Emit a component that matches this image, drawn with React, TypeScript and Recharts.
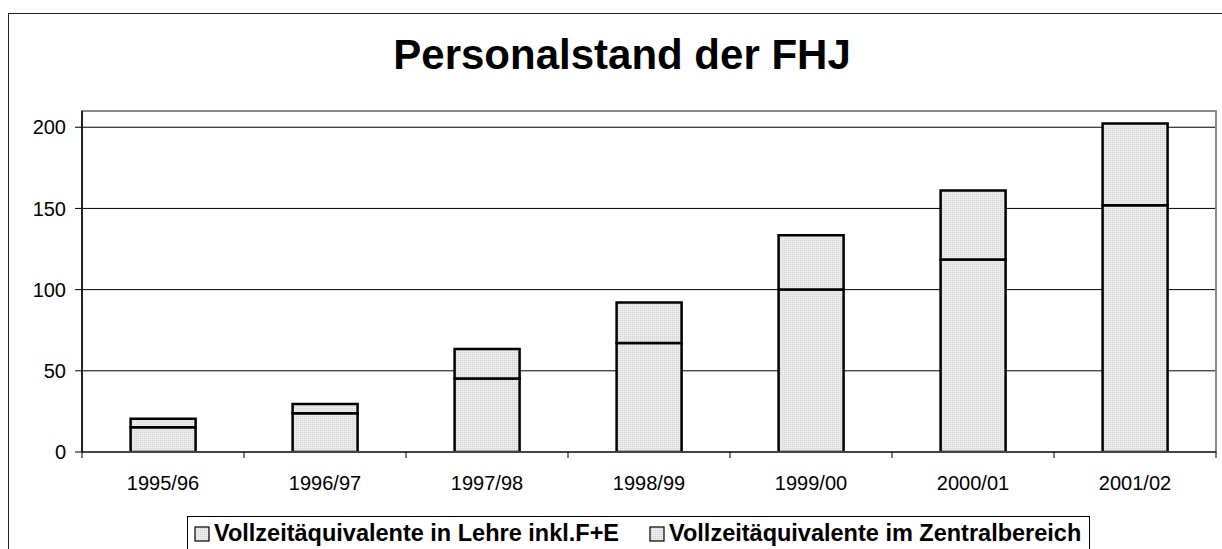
import React from 'react';
import { BarChart, Bar, XAxis, YAxis, CartesianGrid, Legend, ReferenceArea } from 'recharts';

const categories = ['1995/96', '1996/97', '1997/98', '1998/99', '1999/00', '2000/01', '2001/02'];
const lehre = [15.2, 23.8, 45.3, 67.1, 100, 118.6, 152];
const zentral = [5.3, 5.7, 18.1, 24.9, 33.5, 42.5, 50.3];
const yTicks = [0, 50, 100, 150, 200];
const seriesNames = ['Vollzeitäquivalente in Lehre inkl.F+E', 'Vollzeitäquivalente im Zentralbereich'];
const title = 'Personalstand der FHJ';

const data = categories.map((c, i) => ({ cat: c, lehre: lehre[i], zentral: zentral[i] }));

const FONT = '"Liberation Sans", Arial, sans-serif';
const X_TICK_SIZE = 6;
const X_TICK_MARGIN = 18;

const XTick = (props: any) => {
  const { x, y, payload, index, visibleTicksCount } = props;
  const off = payload && payload.offset ? payload.offset : 0;
  const axisY = y - X_TICK_SIZE - X_TICK_MARGIN;
  const last = index === (visibleTicksCount ?? categories.length) - 1;
  return (
    <g>
      <line x1={x - off} x2={x - off} y1={axisY} y2={axisY + X_TICK_SIZE} stroke="#000" strokeWidth={1} />
      {last && <line x1={x + off} x2={x + off} y1={axisY} y2={axisY + X_TICK_SIZE} stroke="#000" strokeWidth={1} />}
      <text x={x} y={y} dy="0.71em" textAnchor="middle" fill="#000" fontSize={20} fontFamily={FONT}>
        {payload.value}
      </text>
    </g>
  );
};

const LegendContent = (props: any) => {
  const payload = [...(props.payload || [])].sort(
    (a: any, b: any) => seriesNames.indexOf(a.value) - seriesNames.indexOf(b.value)
  );
  return (
    <div
      style={{
        border: '1px solid #000',
        display: 'flex',
        alignItems: 'center',
        padding: '3px 8px 3px 6px',
        background: '#fff',
        fontFamily: FONT,
        fontWeight: 'bold',
        fontSize: 23.5,
        whiteSpace: 'nowrap',
        color: '#000',
      }}
    >
      {payload.map((p: any, i: number) => (
        <span key={i} style={{ display: 'inline-flex', alignItems: 'center', marginRight: i === 0 ? 30 : 0 }}>
          <svg width={16} height={16} style={{ marginRight: 4 }}>
            <rect x={1} y={1} width={14} height={14} fill="url(#dotsLegend)" stroke="#000" strokeWidth={1.2} />
          </svg>
          {p.value}
        </span>
      ))}
      <svg width={0} height={0} style={{ position: 'absolute' }}>
        <defs>
          <pattern id="dotsLegend" width="2" height="2" patternUnits="userSpaceOnUse">
            <rect width="2" height="2" fill="#ebebeb" />
            <rect width="1" height="1" fill="#d2d2d2" />
          </pattern>
        </defs>
      </svg>
    </div>
  );
};

export default function App() {
  return (
    <div style={{ position: 'fixed', left: 0, top: 0, width: 1222, height: 549, overflow: 'hidden', background: '#fff' }}>
      <div
        style={{
          position: 'absolute',
          left: 8,
          top: 13,
          width: 1300,
          height: 600,
          border: '1px solid #222',
          boxSizing: 'border-box',
        }}
      />
      <div
        style={{
          position: 'absolute',
          left: 0,
          width: 1244,
          top: 27,
          textAlign: 'center',
          fontFamily: FONT,
          fontWeight: 'bold',
          fontSize: 42,
          lineHeight: '56px',
          color: '#000',
        }}
      >
        {title}
      </div>
      <div style={{ position: 'absolute', left: 0, top: 0 }}>
        <BarChart
          width={1222}
          height={549}
          data={data}
          margin={{ top: 111, right: 6, bottom: 67, left: 22 }}
          barCategoryGap="30%"
        >
          <defs>
            <pattern id="dots" width="2" height="2" patternUnits="userSpaceOnUse">
              <rect width="2" height="2" fill="#ebebeb" />
              <rect width="1" height="1" fill="#d2d2d2" />
            </pattern>
          </defs>
          <CartesianGrid vertical={false} stroke="#000" strokeWidth={1} />
          <ReferenceArea y1={0} y2={210} fill="none" fillOpacity={0} stroke="#888" strokeWidth={2} ifOverflow="visible" />
          <XAxis
            dataKey="cat"
            height={30}
            tickLine={false}
            tickSize={X_TICK_SIZE}
            tickMargin={X_TICK_MARGIN}
            axisLine={{ stroke: '#444', strokeWidth: 2 }}
            tick={<XTick />}
            interval={0}
          />
          <YAxis
            width={60}
            domain={[0, 210]}
            ticks={yTicks}
            tickSize={7}
            tickMargin={9}
            axisLine={{ stroke: '#000', strokeWidth: 1.5 }}
            tickLine={{ stroke: '#000', strokeWidth: 1 }}
            tick={{ fill: '#000', fontSize: 20, fontFamily: FONT }}
            allowDataOverflow
          />
          <Legend
            layout="horizontal"
            verticalAlign="middle"
            align="center"
            content={<LegendContent />}
            wrapperStyle={{ left: 187, top: 516, width: 'auto', height: 'auto' }}
          />
          <Bar dataKey="lehre" name={seriesNames[0]} stackId="a" fill="url(#dots)" stroke="#000" strokeWidth={2.5} isAnimationActive={false} />
          <Bar dataKey="zentral" name={seriesNames[1]} stackId="a" fill="url(#dots)" stroke="#000" strokeWidth={2.5} isAnimationActive={false} />
        </BarChart>
      </div>
    </div>
  );
}
